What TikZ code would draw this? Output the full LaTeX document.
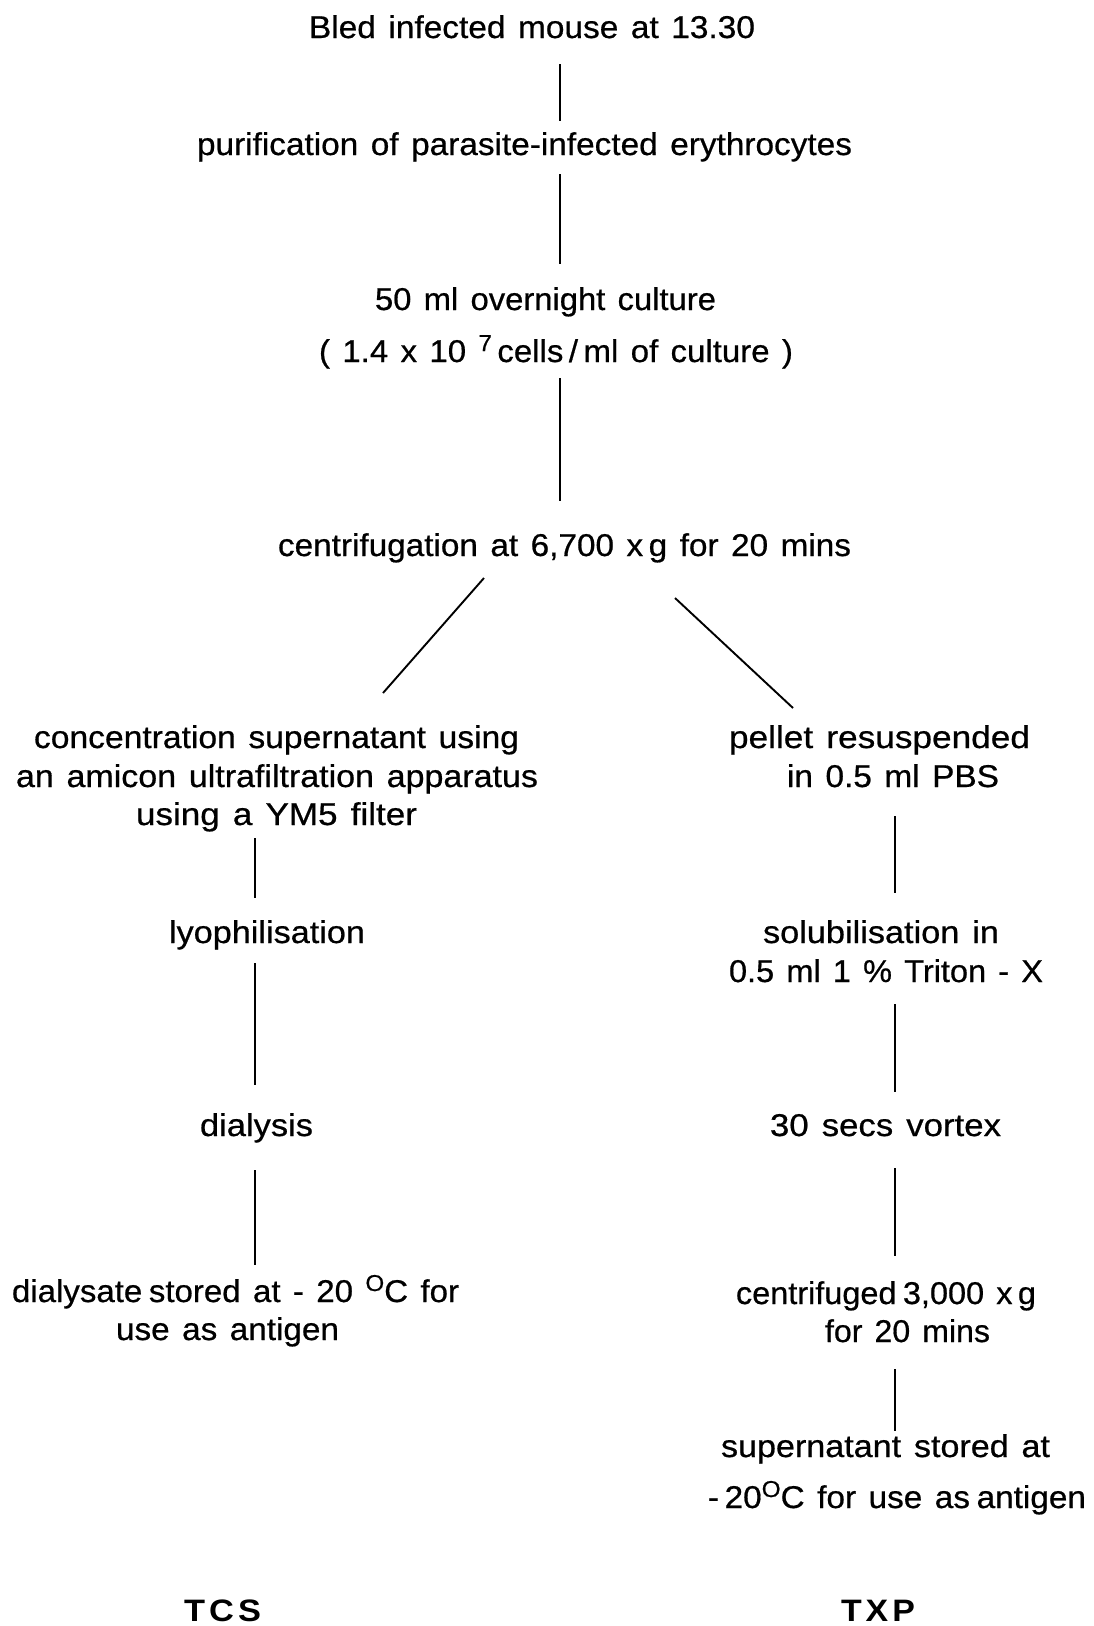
\documentclass[tikz,border=0pt]{standalone}
\usepackage{fontspec}
\setmainfont[WordSpace=1.35,FakeBold=0.6]{Liberation Sans}
\newfontfamily\lblfont[LetterSpace=12]{Liberation Sans Bold}
\newcommand\fitw[2]{\setbox0=\hbox{#2}\dimen0=\wd0\pgfmathsetmacro\fitr{#1/\the\dimen0}\scalebox{\fitr}[1]{\box0}}
\newcommand\supr[1]{\raisebox{11pt}{\fontsize{23}{23}\selectfont #1}}
\begin{document}
\begin{tikzpicture}[x=1pt,y=-1pt,
  txt/.style={inner sep=0pt, anchor=base, font=\fontsize{31.5}{36}\selectfont},
  lbl/.style={inner sep=0pt, anchor=base, font=\fontsize{31}{36}\selectfont\lblfont},
  conn/.style={line width=1.9pt, black}]
\useasboundingbox (0,0) rectangle (1093,1626);
\fill[white] (0,0) rectangle (1093,1626);
% main trunk
\node[txt] (bled)  at (532,38)   {\fitw{446}{Bled infected mouse at 13.30}};
\node[txt] (purif) at (524.5,155) {\fitw{655}{purification of parasite-infected erythrocytes}};
\node[txt] (cult1) at (545.5,310) {\fitw{341}{50 ml overnight culture}};
\node[txt] (cult2) at (556,362)   {\fitw{474}{( 1.4 x 10 \supr{7}\,cells\,/\,ml of culture )}};
\node[txt] (centr) at (564.5,556) {\fitw{573}{centrifugation at 6,700 x\,g for 20 mins}};
% left branch
\node[txt] (conc1) at (276.5,748) {\fitw{485}{concentration supernatant using}};
\node[txt] (conc2) at (277,787)   {\fitw{522}{an amicon ultrafiltration apparatus}};
\node[txt] (conc3) at (276.5,825) {\fitw{281}{using a YM5 filter}};
\node[txt] (lyo)   at (267,943)   {\fitw{196}{lyophilisation}};
\node[txt] (dial)  at (256.5,1136) {\fitw{113}{dialysis}};
\node[txt] (dsat1) at (235.5,1302) {\fitw{447}{dialysate\hspace{0.2em}stored at - 20 \supr{O}C for}};
\node[txt] (dsat2) at (227.5,1340) {\fitw{223}{use as antigen}};
% right branch
\node[txt] (pel1)  at (879.5,748) {\fitw{301}{pellet resuspended}};
\node[txt] (pel2)  at (893,787)   {\fitw{212}{in 0.5 ml PBS}};
\node[txt] (sol1)  at (881,943)   {\fitw{236}{solubilisation in}};
\node[txt] (sol2)  at (886,982)   {\fitw{314}{0.5 ml 1 \% Triton - X}};
\node[txt] (vort)  at (885.5,1136) {\fitw{231}{30 secs vortex}};
\node[txt] (cfg1)  at (886,1304)  {\fitw{300}{centrifuged\hspace{0.2em}3,000 x\,g}};
\node[txt] (cfg2)  at (907.5,1342) {\fitw{165}{for 20 mins}};
\node[txt] (sup1)  at (885.5,1457) {\fitw{329}{supernatant stored at}};
\node[txt] (sup2)  at (897,1508)  {\fitw{378}{-\,20\supr{O}C for use as\hspace{0.2em}antigen}};
% labels
\node[lbl] (tcs) at (222.5,1621) {\fitw{77}{TCS}};
\node[lbl] (txp) at (878,1621)   {\fitw{74}{TXP}};
% connector end points
\coordinate (a1) at (560,64);   \coordinate (a2) at (560,121);
\coordinate (b1) at (560,174);  \coordinate (b2) at (560,264);
\coordinate (c1) at (560,378);  \coordinate (c2) at (560,501);
\coordinate (d1) at (484,578);  \coordinate (d2) at (383,693);
\coordinate (e1) at (675,598);  \coordinate (e2) at (793,708);
\coordinate (f1) at (255,838);  \coordinate (f2) at (255,898);
\coordinate (g1) at (255,963);  \coordinate (g2) at (255,1085);
\coordinate (h1) at (255,1170); \coordinate (h2) at (255,1265);
\coordinate (p1) at (895,816);  \coordinate (p2) at (895,893);
\coordinate (q1) at (895,1004); \coordinate (q2) at (895,1092);
\coordinate (r1) at (895,1168); \coordinate (r2) at (895,1256);
\coordinate (s1) at (895,1369); \coordinate (s2) at (895,1431);
\foreach \u/\v in {a1/a2,b1/b2,c1/c2,d1/d2,e1/e2,f1/f2,g1/g2,h1/h2,p1/p2,q1/q2,r1/r2,s1/s2}
  \draw[conn] (\u) -- (\v);
\end{tikzpicture}
\end{document}
